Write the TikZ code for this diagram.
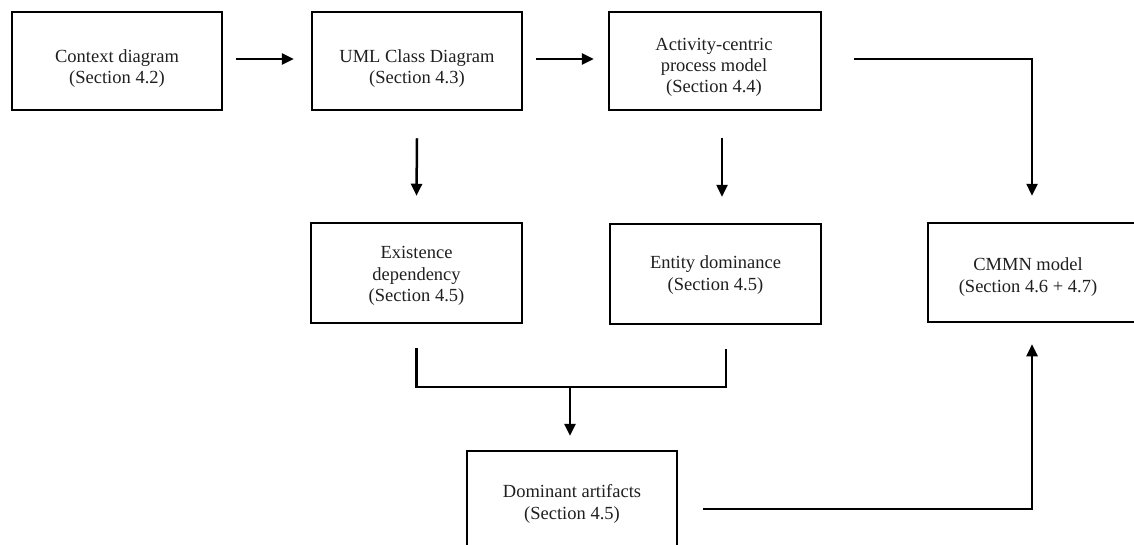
\documentclass[tikz,border=0pt]{standalone}
\usepackage{fontspec}
\setmainfont{Liberation Serif}
\usetikzlibrary{arrows.meta}

\begin{document}
\begin{tikzpicture}[x=1pt,y=-1pt,
  stagebox/.style={draw=black, line width=2.5pt, fill=none, inner sep=0pt},
  stagetext/.style={align=center, inner sep=0pt, font=\fontsize{18.5}{21.3}\selectfont, text=black!88},
  flow/.style={line width=2.5pt, -{Triangle[length=12pt,width=11pt]}},
  joinline/.style={line width=2.5pt}]

\useasboundingbox (0,0) rectangle (1134,544);

% process stages (boxes)
\node[stagebox, minimum width=210pt, minimum height=98pt]  (ctx)  at (117,61)    {};
\node[stagebox, minimum width=210pt, minimum height=98pt]  (uml)  at (417,61)    {};
\node[stagebox, minimum width=212pt, minimum height=98pt]  (act)  at (715,61)    {};
\node[stagebox, minimum width=211pt, minimum height=100pt] (exi)  at (416.5,273) {};
\node[stagebox, minimum width=211pt, minimum height=100pt] (ent)  at (715.5,274) {};
\node[stagebox, minimum width=210pt, minimum height=99pt]  (cmmn) at (1033,272.5) {};
\node[stagebox, minimum width=210pt, minimum height=106pt] (dom)  at (572,504)   {};

% stage labels
\node[stagetext] (ctx-t)  at (117,68.5)   {Context diagram\\(Section 4.2)};
\node[stagetext] (uml-t)  at (417,68.5)   {UML Class Diagram\\(Section 4.3)};
\node[stagetext] (act-t)  at (714,67.5)   {Activity-centric\\process model\\(Section 4.4)};
\node[stagetext] (exi-t)  at (416.5,276)  {Existence\\dependency\\(Section 4.5)};
\node[stagetext] (ent-t)  at (715.5,275)  {Entity dominance\\(Section 4.5)};
\node[stagetext] (cmmn-t) at (1028,277)   {CMMN model\\(Section 4.6 + 4.7)};
\node[stagetext] (dom-t)  at (572,504)    {Dominant artifacts\\(Section 4.5)};

% top row flow
\draw[flow] ([xshift=13pt,yshift=2pt]ctx.east) -- ([xshift=-17pt,yshift=2pt]uml.west);
\draw[flow] ([xshift=13pt,yshift=2pt]uml.east) -- ([xshift=-14pt,yshift=2pt]act.west);

% downward flows
\draw[flow] ([yshift=-27pt]uml.south) -- ([yshift=26pt]exi.north);
\draw[flow] ([xshift=7pt,yshift=-27pt]act.south) -- ([xshift=6.5pt,yshift=26pt]ent.north);
\draw[flow] ([xshift=32pt,yshift=2pt]act.east) -| ([xshift=-1pt,yshift=26pt]cmmn.north);

% merge of existence dependency and entity dominance
\coordinate (join) at (570,387);
\draw[joinline] ([yshift=-24pt]exi.south) |- (join) -| ([xshift=10.5pt,yshift=-24pt]ent.south);
\draw[flow] (join) -- ([xshift=-2pt,yshift=14pt]dom.north);

% dominant artifacts feed the CMMN model
\draw[flow] ([xshift=25pt,yshift=-5pt]dom.east) -| ([xshift=-1pt,yshift=-21pt]cmmn.south);

\end{tikzpicture}
\end{document}
